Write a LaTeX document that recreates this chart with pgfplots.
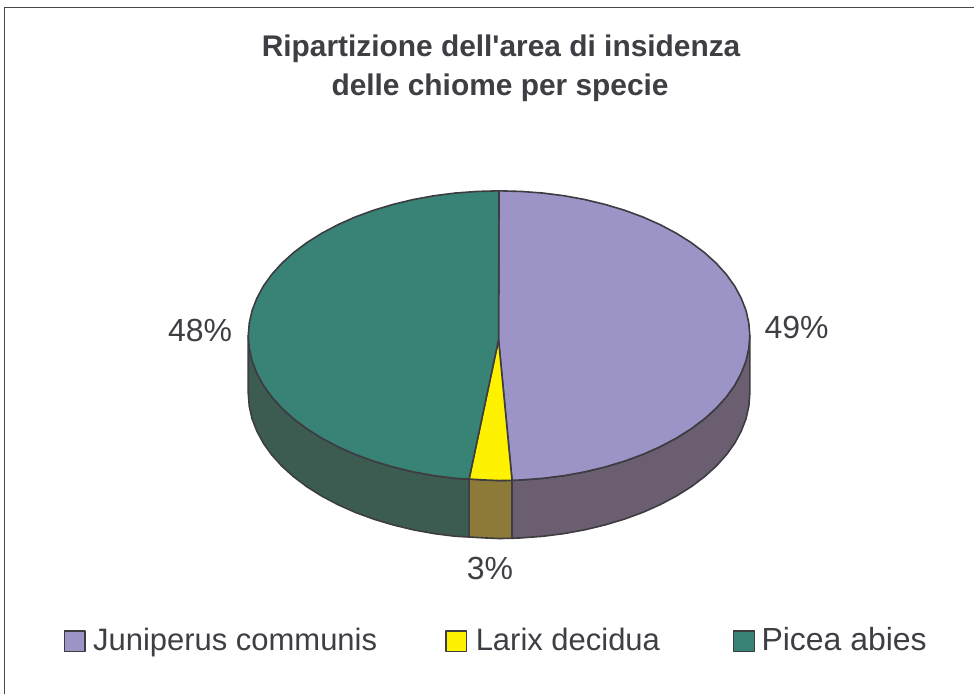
\documentclass[border=0pt]{standalone}
\usepackage{fontspec}
\setmainfont{Liberation Sans}
\newfontfamily\plainsans{Liberation Sans}
\usepackage{pgfplots}
\pgfplotsset{compat=1.18}
\definecolor{juni}{RGB}{156,147,199}
\definecolor{larix}{RGB}{255,242,0}
\definecolor{picea}{RGB}{56,130,118}
\definecolor{junis}{RGB}{107,94,112}
\definecolor{larixs}{RGB}{142,122,56}
\definecolor{piceas}{RGB}{60,92,82}
\definecolor{edge}{RGB}{60,60,65}
\definecolor{txt}{RGB}{62,62,68}
\newcommand{\lab}[1]{\fontsize{31}{31}\selectfont #1}
\newcommand{\pct}[1]{\fontsize{32}{32}\selectfont #1}
\begin{document}
\begin{tikzpicture}
\begin{axis}[
  scale only axis, width=975pt, height=695pt,
  xmin=0, xmax=975, ymin=0, ymax=695, y dir=reverse,
  axis lines=none, clip=false,
  every axis plot/.append style={draw=edge, line width=1.6pt, line join=round, mark=none},
]
% keeps the page at full size
\addplot[draw=none] coordinates {(0,0)(975,695)};
% frame, only top and left are in the picture
\addplot[draw=black!72, line width=1.8pt] coordinates {(4.5,695)(4.5,7.5)(975,7.5)};
% sides
\addplot[fill=junis] coordinates {
(750.5,336)(749.5,348.6)(746.7,361.2)(741.9,373.5)(735.4,385.6)(727,397.3)(716.9,408.5)(705.1,419.2)
(691.8,429.2)(677,438.5)(660.8,447.1)(643.5,454.8)(625,461.6)(605.6,467.4)(585.3,472.3)(564.5,476.1)
(543.1,478.8)(521.4,480.4)(512.5,480.8)(512.5,538.8)(521.4,538.4)(543.1,536.8)(564.5,534.1)(585.3,530.3)
(605.6,525.4)(625,519.6)(643.5,512.8)(660.8,505.1)(677,496.5)(691.8,487.2)(705.1,477.2)(716.9,466.5)
(727,455.3)(735.4,443.6)(741.9,431.5)(746.7,419.2)(749.5,406.6)(750.5,394)} -- cycle;
\addplot[fill=larixs] coordinates {
(469.5,479.5)(485,480.4)(499.5,481)(512.5,480.8)(512.5,538.8)(499.5,539)(485,538.4)(469.5,537.5)} -- cycle;
\addplot[fill=piceas] coordinates {
(248.5,336)(249.5,348.6)(252.3,361.2)(257.1,373.5)(263.6,385.6)(272,397.3)(282.1,408.5)(293.9,419.2)
(307.2,429.2)(322,438.5)(338.2,447.1)(355.5,454.8)(374,461.6)(393.4,467.4)(413.7,472.3)(434.5,476.1)
(455.9,478.8)(469.5,479.5)(469.5,537.5)(455.9,536.8)(434.5,534.1)(413.7,530.3)(393.4,525.4)(374,519.6)
(355.5,512.8)(338.2,505.1)(322,496.5)(307.2,487.2)(293.9,477.2)(282.1,466.5)(272,455.3)(263.6,443.6)
(257.1,431.5)(252.3,419.2)(249.5,406.6)(248.5,394)} -- cycle;
% top slices
\addplot[fill=juni] coordinates {
(499,340)(499.5,191)(521.4,191.6)(543.1,193.2)(564.5,195.9)(585.3,199.7)(605.6,204.6)(625,210.4)(643.5,217.2)
(660.8,224.9)(677,233.5)(691.8,242.8)(705.1,252.8)(716.9,263.5)(727,274.7)(735.4,286.4)(741.9,298.5)
(746.7,310.8)(749.5,323.4)(750.5,336)(749.5,348.6)(746.7,361.2)(741.9,373.5)(735.4,385.6)(727,397.3)
(716.9,408.5)(705.1,419.2)(691.8,429.2)(677,438.5)(660.8,447.1)(643.5,454.8)(625,461.6)(605.6,467.4)
(585.3,472.3)(564.5,476.1)(543.1,478.8)(521.4,480.4)(512.5,480.8)} -- cycle;
\addplot[fill=larix] coordinates {
(499,340)(512.5,480.8)(499.5,481)(485,480.4)(469.5,479.5)} -- cycle;
\addplot[fill=picea] coordinates {
(499,340)(469.5,479.5)(455.9,478.8)(434.5,476.1)(413.7,472.3)(393.4,467.4)(374,461.6)(355.5,454.8)(338.2,447.1)
(322,438.5)(307.2,429.2)(293.9,419.2)(282.1,408.5)(272,397.3)(263.6,385.6)(257.1,373.5)(252.3,361.2)
(249.5,348.6)(248.5,336)(249.5,323.4)(252.3,310.8)(257.1,298.5)(263.6,286.4)(272,274.7)(282.1,263.5)
(293.9,252.8)(307.2,242.8)(322,233.5)(338.2,224.9)(355.5,217.2)(374,210.4)(393.4,204.6)(413.7,199.7)
(434.5,195.9)(455.9,193.2)(477.6,191.6)(499.5,191)} -- cycle;
% legend keys
\addplot[fill=juni, line width=1.2pt] coordinates {(64.5,631.5)(85,631.5)(85,652)(64.5,652)} -- cycle;
\addplot[fill=larix, line width=1.2pt] coordinates {(446.5,631.5)(467,631.5)(467,652)(446.5,652)} -- cycle;
\addplot[fill=picea, line width=1.2pt] coordinates {(734.5,631.5)(755,631.5)(755,652)(734.5,652)} -- cycle;
% text
\node[text=txt, font=\plainsans\fontsize{29.9}{38}\selectfont\bfseries, anchor=base, inner sep=0pt] at (axis cs:501.5,57)
  {Ripartizione dell'area di insidenza};
\node[text=txt, font=\plainsans\fontsize{29.9}{38}\selectfont\bfseries, anchor=base, inner sep=0pt] at (axis cs:500.5,96)
  {delle chiome per specie};
\node[text=txt, anchor=base west, inner sep=0pt] at (axis cs:765,339) {\pct{49\%}};
\node[text=txt, anchor=base west, inner sep=0pt] at (axis cs:168,342) {\pct{48\%}};
\node[text=txt, anchor=base west, inner sep=0pt] at (axis cs:467,580) {\pct{3\%}};
\node[text=txt, anchor=base west, inner sep=0pt] at (axis cs:93,651) {\lab{Juniperus communis}};
\node[text=txt, anchor=base west, inner sep=0pt] at (axis cs:476,651) {\lab{Larix decidua}};
\node[text=txt, anchor=base west, inner sep=0pt] at (axis cs:762,651) {\pct{Picea abies}};
\end{axis}
\end{tikzpicture}
\end{document}
